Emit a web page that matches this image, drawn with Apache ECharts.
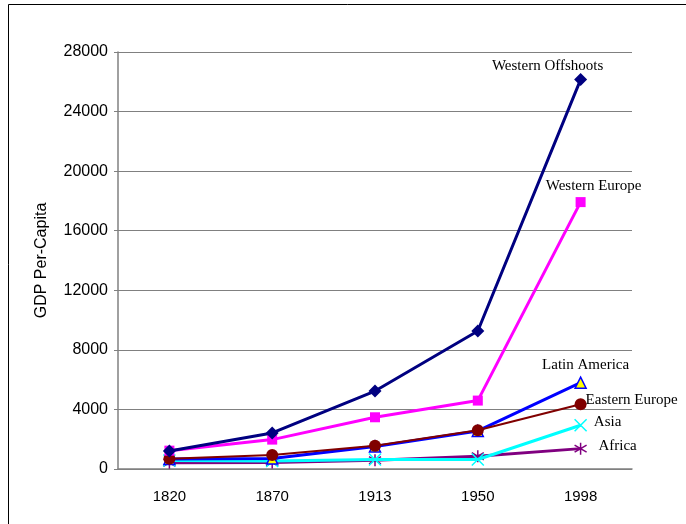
<!DOCTYPE html>
<html><head><meta charset="utf-8">
<script src="https://cdn.jsdelivr.net/npm/echarts@6/dist/echarts.min.js"></script>
<style>html,body{margin:0;padding:0;background:#fff}#c{width:686px;height:524px}</style>
</head><body><div id="c"></div>
<script>
const years = ['1820','1870','1913','1950','1998'];
const westernOffshoots = [1202, 2419, 5233, 9268, 26146];
const westernEurope = [1232, 1974, 3473, 4594, 17921];
const latinAmerica = [665, 698, 1511, 2554, 5795];
const easternEurope = [688, 941, 1558, 2602, 4354];
const asia = [575, 543, 640, 635, 2936];
const africa = [418, 444, 585, 852, 1368];
const yTicks = [0, 4000, 8000, 12000, 16000, 20000, 24000, 28000];

const X_PATH = 'path://M0,0L10,10M10,0L0,10';
const STAR_PATH = 'path://M5,0L5,10M0,2L10,8M0,8L10,2';

function mk(name, data, color, width, symbol, size, itemStyle, labelOffset, z) {
  const d = data.map((v, i) => i === data.length - 1 ? {
    value: v,
    label: {show: true, formatter: name, position: 'inside', offset: labelOffset,
      fontFamily: 'Liberation Serif', fontSize: 15, color: '#000', letterSpacing: -0.6}
  } : v);
  return {
    name, type: 'line', data: d, symbol, symbolSize: size, z,
    lineStyle: {color, width}, itemStyle: Object.assign({color}, itemStyle || {}),
    emphasis: {disabled: true}, animation: false
  };
}

const chart = echarts.init(document.getElementById('c'));
chart.setOption({
  animation: false,
  grid: {left: 118, right: 54, top: 52, bottom: 55},
  graphic: [{type: 'rect', shape: {x: 8.5, y: 4.5, width: 800, height: 700},
    style: {fill: 'none', stroke: '#000', lineWidth: 1}, silent: true}],
  xAxis: {type: 'category', data: years, boundaryGap: true,
    axisLine: {lineStyle: {color: '#808080', width: 1.5}},
    axisTick: {show: false},
    axisLabel: {color: '#000', fontFamily: 'Liberation Sans', fontSize: 15, margin: 20}},
  yAxis: {type: 'value', min: 0, max: 28000, interval: 4000,
    name: 'GDP Per-Capita', nameLocation: 'middle', nameGap: 68, nameRotate: 90,
    nameTextStyle: {color: '#000', fontFamily: 'Liberation Sans', fontSize: 16},
    axisLine: {show: true, lineStyle: {color: '#808080', width: 1.5}},
    axisTick: {show: true, length: 4, inside: false, lineStyle: {color: '#808080'}},
    axisLabel: {color: '#000', fontFamily: 'Liberation Sans', fontSize: 16, margin: 10,
      formatter: v => yTicks.includes(v) ? String(v) : ''},
    splitLine: {lineStyle: {color: '#808080', width: 1}}},
  series: [
    mk('Africa', africa, '#800080', 3, STAR_PATH, 12, {borderColor: '#800080', borderWidth: 1.5}, [37, -3], 2),
    mk('Asia', asia, '#00FFFF', 3, X_PATH, 12, {borderColor: '#00FFFF', borderWidth: 1.5}, [27, -3], 3),
    mk('Latin America', latinAmerica, '#0000FF', 3, 'triangle', 11, {color: '#FFFF00', borderColor: '#0000FF', borderWidth: 1.5}, [5, -18], 4),
    mk('Eastern Europe', easternEurope, '#800000', 2, 'circle', 12, {}, [51, -4], 5),
    mk('Western Europe', westernEurope, '#FF00FF', 3, 'rect', 10, {}, [13, -16], 6),
    mk('Western Offshoots', westernOffshoots, '#000080', 3, 'diamond', 13, {}, [-33, -14], 7)
  ]
});
</script></body></html>
